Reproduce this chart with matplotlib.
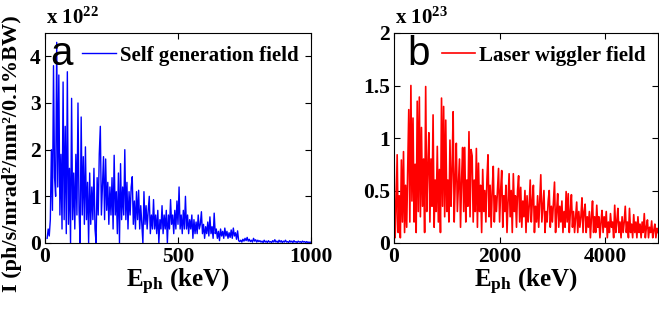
import numpy as np
import matplotlib
matplotlib.use("Agg")
import matplotlib.pyplot as plt

plt.rcParams['font.family'] = ['Liberation Serif', 'DejaVu Serif']
plt.rcParams['font.weight'] = 'bold'
plt.rcParams['mathtext.fontset'] = 'custom'
plt.rcParams['mathtext.rm'] = 'Liberation Serif:bold'
plt.rcParams['mathtext.bf'] = 'Liberation Serif:bold'
plt.rcParams['mathtext.it'] = 'Liberation Serif:bold'
plt.rcParams['mathtext.default'] = 'bf'

# ---- Panel a: self generation field (x 1e22) ----
energy_a = np.arange(8, 1001, 4)  # keV
intensity_a = [
    0.1, 0.3, 0.15, 0.5, 2.0, 0.7, 3.8, 1.4, 1.0, 4.3,
    1.2, 3.6, 0.6, 1.9, 0.3, 3.45, 0.5, 2.5, 0.2, 3.67,
    0.4, 1.6, 0.0, 3.1, 0.5, 1.5, 0.3, 1.9, 0.6, 3.0,
    0.7, 0.0, 2.7, 0.6, 1.85, 0.4, 2.06, 0.5, 1.3, 0.0,
    1.5, 0.4, 1.2, 0.5, 1.6, 0.3, 0.0, 1.4, 0.6, 1.9,
    2.5, 0.6, 1.2, 1.85, 0.5, 1.8, 0.7, 1.3, 0.4, 1.2,
    0.6, 1.4, 0.3, 1.88, 0.6, 1.1, 0.2, 1.5, 0.0, 1.7,
    0.5, 1.2, 0.6, 2.0, 0.5, 1.3, 0.3, 1.1, 0.6, 1.2,
    1.42, 0.4, 0.9, 0.3, 1.1, 0.5, 1.13, 0.3, 0.8, 0.4,
    0.0, 1.1, 0.4, 0.8, 0.3, 0.7, 1.0, 0.2, 0.6, 0.3,
    0.93, 0.3, 0.6, 0.2, 0.7, 0.0, 0.5, 0.3, 0.8, 0.2,
    0.6, 0.3, 0.7, 0.0, 0.6, 0.3, 0.93, 0.4, 0.6, 0.2,
    0.7, 0.3, 0.9, 0.4, 1.2, 0.3, 0.6, 0.2, 0.7, 0.3,
    1.0, 0.3, 0.6, 0.2, 0.5, 0.3, 0.6, 0.1, 0.5, 0.2,
    0.45, 0.2, 0.6, 0.3, 0.4, 0.67, 0.2, 0.4, 0.1, 0.35,
    0.2, 0.45, 0.15, 0.56, 0.2, 0.35, 0.1, 0.64, 0.2, 0.3,
    0.1, 0.25, 0.05, 0.3, 0.15, 0.25, 0.1, 0.32, 0.15, 0.25,
    0.1, 0.22, 0.12, 0.28, 0.1, 0.32, 0.15, 0.22, 0.08, 0.26,
    0.05, 0.03, 0.06, 0.02, 0.08, 0.04, 0.1, 0.05, 0.12, 0.04,
    0.08, 0.03, 0.06, 0.02, 0.1, 0.04, 0.07, 0.02, 0.06, 0.03,
    0.05, 0.02, 0.04, 0.01, 0.06, 0.02, 0.04, 0.01, 0.05, 0.02,
    0.03, 0.01, 0.05, 0.02, 0.07, 0.02, 0.04, 0.01, 0.06, 0.02,
    0.05, 0.01, 0.04, 0.02, 0.06, 0.02, 0.03, 0.01, 0.05, 0.02,
    0.04, 0.01, 0.05, 0.02, 0.03, 0.01, 0.04, 0.02, 0.03, 0.01,
    0.04, 0.02, 0.03, 0.01, 0.03, 0.01, 0.02, 0.01, 0.02,
]

# ---- Panel b: laser wiggler field (x 1e23) ----
energy_b = np.arange(0, 5001, 20)  # keV
intensity_b = [
    0.92, 0.05, 0.3, 0.84, 0.1, 0.45, 0.05, 0.79, 0.2, 0.87,
    0.1, 0.55, 0.15, 0.7, 1.27, 0.2, 1.5, 0.4, 1.19, 0.2,
    0.75, 0.1, 1.35, 0.3, 1.39, 0.25, 1.1, 0.35, 0.8, 0.1,
    1.49, 0.3, 0.7, 1.05, 0.2, 0.8, 0.35, 1.22, 0.15, 0.6,
    0.3, 0.92, 0.2, 0.7, 0.1, 1.38, 0.35, 1.3, 0.25, 1.17,
    0.3, 0.6, 0.2, 0.98, 0.35, 0.7, 1.25, 0.2, 0.6, 0.95,
    0.3, 0.55, 0.8, 0.15, 0.6, 0.91, 0.3, 0.91, 0.2, 0.6,
    0.35, 1.06, 0.25, 0.89, 0.83, 0.2, 0.6, 0.3, 0.9, 0.15,
    0.76, 0.3, 0.55, 0.1, 0.7, 0.3, 0.5, 0.2, 0.6, 0.84,
    0.25, 0.55, 0.15, 0.5, 0.73, 0.2, 0.45, 0.3, 0.5, 0.71,
    0.2, 0.5, 0.69, 0.15, 0.45, 0.3, 0.55, 0.1, 0.4, 0.66,
    0.25, 0.5, 0.1, 0.66, 0.3, 0.45, 0.15, 0.5, 0.64, 0.2,
    0.53, 0.15, 0.4, 0.25, 0.5, 0.1, 0.45, 0.2, 0.35, 0.6,
    0.2, 0.4, 0.55, 0.1, 0.35, 0.2, 0.45, 0.15, 0.4, 0.65,
    0.2, 0.35, 0.5, 0.1, 0.3, 0.2, 0.4, 0.5, 0.15, 0.35,
    0.2, 0.4, 0.58, 0.1, 0.3, 0.47, 0.15, 0.35, 0.2, 0.4,
    0.1, 0.3, 0.15, 0.49, 0.2, 0.47, 0.1, 0.3, 0.46, 0.15,
    0.3, 0.1, 0.25, 0.39, 0.1, 0.3, 0.15, 0.25, 0.43, 0.1,
    0.3, 0.37, 0.1, 0.25, 0.15, 0.3, 0.05, 0.25, 0.4, 0.1,
    0.25, 0.1, 0.36, 0.15, 0.25, 0.05, 0.2, 0.31, 0.1, 0.25,
    0.15, 0.3, 0.05, 0.2, 0.1, 0.28, 0.15, 0.2, 0.05, 0.36,
    0.1, 0.2, 0.33, 0.1, 0.2, 0.05, 0.25, 0.1, 0.2, 0.35,
    0.1, 0.2, 0.05, 0.33, 0.1, 0.18, 0.05, 0.27, 0.1, 0.2,
    0.05, 0.25, 0.1, 0.18, 0.05, 0.2, 0.1, 0.28, 0.05, 0.15,
    0.22, 0.05, 0.15, 0.1, 0.21, 0.05, 0.12, 0.18, 0.05, 0.14,
    0.1,
]

fig = plt.figure(figsize=(6.59, 3.10), dpi=100)
W, H = 659.0, 310.0
ax_a = fig.add_axes([45 / W, 1 - 243 / H, 266 / W, 210 / H])
ax_b = fig.add_axes([394 / W, 1 - 243 / H, 264 / W, 210 / H])

tick_fs = 15.5
label_fs = 18
leg_fs = 15

def style(ax):
    ax.tick_params(direction='in', length=4, width=0.8, top=True, right=True,
                   labelsize=tick_fs, pad=3)
    for lab in ax.get_xticklabels() + ax.get_yticklabels():
        lab.set_fontweight('bold')
    for s in ax.spines.values():
        s.set_linewidth(0.8)

# Panel a
ax_a.plot(energy_a, intensity_a, color='#0000ff', lw=1.0, label='Self generation field')
ax_a.set_xlim(0, 1000)
ax_a.set_ylim(0, 4.5)
ax_a.set_xticks([0, 500, 1000])
ax_a.set_yticks([0, 1, 2, 3, 4])
ax_a.set_yticklabels(['0', '1', '2', '3', '4'])
style(ax_a)
ax_a.set_xlabel(r'E$_{\mathbf{ph}}$ (keV)', fontsize=label_fs, fontweight='bold', labelpad=0)
ax_a.set_ylabel('I (ph/s/mrad\u00b2/mm\u00b2/0.1%BW)', fontsize=16, fontweight='bold')
ax_a.yaxis.set_label_coords(-0.088, 0.425)
ax_a.legend(loc='upper right', frameon=False, handlelength=1.6,
            borderaxespad=0.2, handletextpad=0.2, prop={'weight': 'bold', 'size': leg_fs})
ax_a.text(0.02, 0.99, 'a', transform=ax_a.transAxes, fontsize=29,
          family='Liberation Sans', fontweight='normal', va='top', ha='left')
fig.text(46 / W, 1 - 29 / H, r'x 10$^{22}$', fontsize=15, fontweight='bold', va='bottom', ha='left')

# Panel b
ax_b.plot(energy_b, intensity_b, color='#ff0000', lw=1.2, label='Laser wiggler field')
ax_b.set_xlim(0, 5000)
ax_b.set_ylim(0, 2)
ax_b.set_xticks([0, 2000, 4000])
ax_b.set_yticks([0, 0.5, 1, 1.5, 2])
ax_b.set_yticklabels(['0', '0.5', '1', '1.5', '2'])
style(ax_b)
ax_b.set_xlabel(r'E$_{\mathbf{ph}}$ (keV)', fontsize=label_fs, fontweight='bold', labelpad=0)
ax_b.legend(loc='upper right', frameon=False, handlelength=1.6,
            borderaxespad=0.2, handletextpad=0.2, prop={'weight': 'bold', 'size': leg_fs})
ax_b.text(0.05, 0.99, 'b', transform=ax_b.transAxes, fontsize=29,
          family='Liberation Sans', fontweight='normal', va='top', ha='left')
fig.text(395 / W, 1 - 29 / H, r'x 10$^{23}$', fontsize=15, fontweight='bold', va='bottom', ha='left')

fig.savefig('out.png', dpi=100)
